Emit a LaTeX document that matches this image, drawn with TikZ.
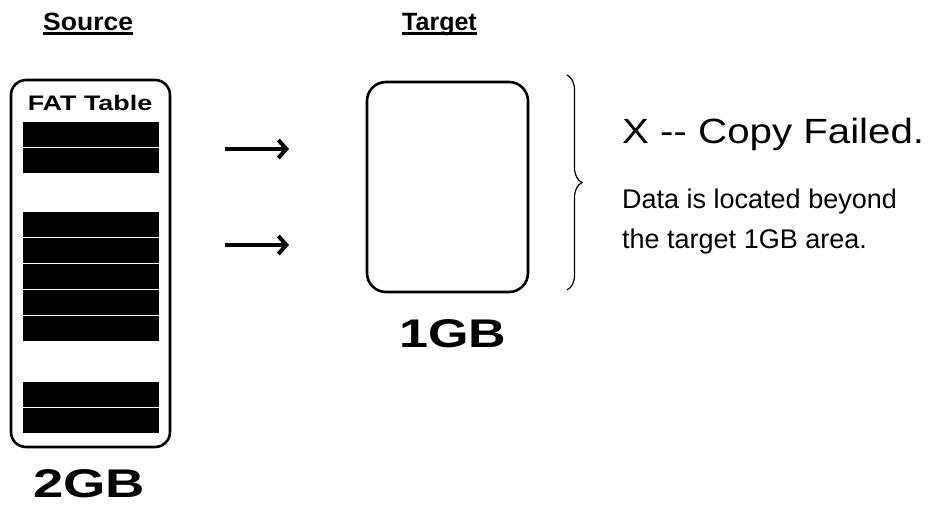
\documentclass[tikz,border=0pt]{standalone}
\usepackage{fontspec}
\setmainfont{Liberation Sans}
\usepackage{graphicx}
\usetikzlibrary{arrows.meta,
	decorations.pathreplacing,
	positioning}

\begin{document}
\begin{tikzpicture}[x=1pt, y=-1pt,
                card/.style={draw, line width=2.6pt, inner sep=0pt},
                heading/.style={font=\fontsize{25}{25}\selectfont\bfseries, inner sep=0pt, anchor=base west},
                size/.style={font=\fontsize{40}{40}\selectfont\bfseries, inner sep=0pt, anchor=base},
                note/.style={font=\fontsize{27}{27}\selectfont, inner sep=0pt, anchor=base west},
                copyarrow/.style={line width=4pt, -{Straight Barb[length=8pt,width=18pt]}}]
            \useasboundingbox (0,0) rectangle (940,504);
            % headings
            \node[heading] (srchead) at (43,30) {\scalebox{1.06}[1]{Source}};
            \node[heading] (tgthead) at (402,30) {Target};
            \draw[line width=2.5pt] ([yshift=-3.5pt]srchead.base west) -- ([yshift=-3.5pt]srchead.base east);
            \draw[line width=2.5pt] ([yshift=-3.5pt]tgthead.base west) -- ([yshift=-3.5pt]tgthead.base east);
            % source card
            \node[card, rounded corners=15pt, minimum width=159pt, minimum height=367pt] (src) at (90.5,263.5) {};
            \node[font=\fontsize{21}{21}\selectfont\bfseries, inner sep=0pt, anchor=base] (fat) at (90,110) {\scalebox{1.28}[1]{FAT Table}};
            \foreach \t in {122,148,212,238,264,290,316,382,408}
                \fill (23,\t) rectangle (159,\t+25);
            \node[size] (srcsize) at (89,497) {\scalebox{1.36}[1]{2GB}};
            % target card
            \node[card, rounded corners=19pt, minimum width=161pt, minimum height=210pt] (tgt) at (447.5,187) {};
            \node[size] (tgtsize) at (453,347) {\scalebox{1.3}[1]{1GB}};
            % arrows
            \coordinate (a1s) at (225,149);
            \coordinate (a1e) at (289,149);
            \coordinate (a2s) at (225,245);
            \coordinate (a2e) at (289,245);
            \draw[copyarrow] (a1s) -- (a1e);
            \draw[copyarrow] (a2s) -- (a2e);
            % brace and result
            \coordinate (bt) at (567,75);
            \coordinate (bb) at (567,290);
            \draw[decorate, decoration={brace, amplitude=15pt}, line width=1.2pt] (bt) -- (bb);
            \node[font=\fontsize{35}{35}\selectfont, inner sep=0pt, anchor=base west] (fail) at (622,143) {\scalebox{1.15}[1]{X {-}{-} Copy Failed.}};
            \node[note] (why1) at (622,208) {Data is located beyond};
            \node[note] (why2) at (622,248) {the target 1GB area.};
        \end{tikzpicture}
\end{document}
